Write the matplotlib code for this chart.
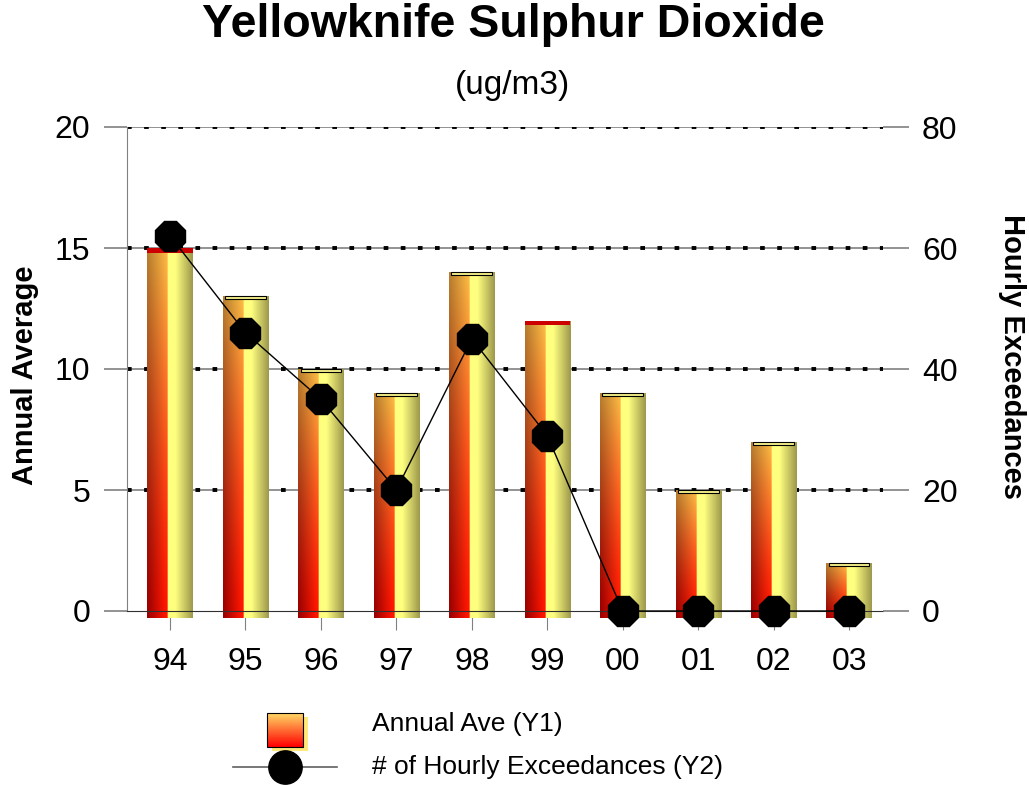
import numpy as np
import matplotlib
matplotlib.use("Agg")
import matplotlib.pyplot as plt
from matplotlib.patches import Rectangle

plt.rcParams['font.family'] = ['Liberation Sans', 'DejaVu Sans']

years = ['94', '95', '96', '97', '98', '99', '00', '01', '02', '03']
annual_avg = [15, 13, 10, 9, 14, 12, 9, 5, 7, 2]
exceedances = [62, 46, 35, 20, 45, 29, 0, 0, 0, 0]
cap_colors = ['#cc0000', '#f4f08a', '#f4f08a', '#f4f08a', '#f4f08a',
              '#cc0000', '#f4f08a', '#f4f08a', '#f4f08a', '#f4f08a']


def bar_image(nx=60, ny=80):
    u = np.linspace(0, 1, nx)
    v = np.linspace(0, 1, ny)[:, None, None]
    yel = np.stack([np.interp(u, [0, 0.45, 0.62, 1], [0.72, 1, 1, 0.62]),
                    np.interp(u, [0, 0.45, 0.62, 1], [0.66, 1, 1, 0.60]),
                    np.interp(u, [0, 0.45, 0.62, 1], [0.33, 0.5, 0.5, 0.30])], -1)
    red = np.stack([np.interp(u, [0, 0.4], [0.6, 1.0]),
                    np.interp(u, [0, 0.4], [0.0, 0.08]),
                    np.zeros_like(u)], -1)
    top = yel * np.array([1.0, 0.75, 0.55])
    w = 1 - v ** 1.3
    left = red[None] * w + top[None] * (1 - w)
    mask = (u < 0.45)[None, :, None]
    img = np.where(mask, left, np.broadcast_to(yel[None], left.shape))
    return np.clip(img, 0, 1)


fig = plt.figure(figsize=(10.29, 7.85), dpi=100)
ax = fig.add_axes([127 / 1029, 174 / 785, 756 / 1029, 484 / 785])
ax2 = ax.twinx()

x = np.arange(len(years))
bw = 0.6
img = bar_image()

# grid lines: gray solid under black dots
for g in [5, 10, 15, 20]:
    ax.axhline(g, color='#808080', lw=1.2, zorder=1)
    ax.axhline(g, color='black', lw=2.8, dashes=(1.2, 3.2), zorder=1.1)

for xi, val, cc in zip(x, annual_avg, cap_colors):
    ax.imshow(img, extent=[xi - bw / 2, xi + bw / 2, -0.27, val], aspect='auto',
              origin='lower', interpolation='bilinear', zorder=2, clip_on=False)
    if cc == '#cc0000':
        ax.add_patch(Rectangle((xi - bw / 2, val - 0.2), bw, 0.2, facecolor=cc,
                               edgecolor='none', zorder=3))
    else:
        ax.add_patch(Rectangle((xi - bw * 0.45, val - 0.12), bw * 0.9, 0.12,
                               facecolor=cc, edgecolor='black', lw=0.8, zorder=3))

ax.set_xlim(-0.57, 9.45)
ax.set_ylim(0, 20)
ax.set_yticks([0, 5, 10, 15, 20])
ax.set_xticks(x)
ax.set_xticklabels(years)
ax.tick_params(axis='x', length=14, color='#808080', pad=12, labelsize=23)
ax.tick_params(axis='y', length=16.5, color='#808080', pad=10, labelsize=23, width=1.2)
for s in ['top', 'right']:
    ax.spines[s].set_visible(False)
ax.spines['left'].set_color('#808080')
ax.spines['bottom'].set_color('#303030')
ax.spines['bottom'].set_zorder(4)

ax2.plot(x, exceedances, color='black', lw=1, marker='8', markersize=24,
         markerfacecolor='black', markeredgecolor='black', zorder=5, clip_on=False)
ax2.set_ylim(0, 80)
ax2.set_yticks([0, 20, 40, 60, 80])
ax2.tick_params(axis='y', length=19, color='#808080', pad=9, labelsize=23, width=1.2)
for s in ['top', 'right', 'left', 'bottom']:
    ax2.spines[s].set_visible(False)

fig.text(25 / 1029, 1 - 375 / 785, 'Annual Average', fontsize=21, fontweight='bold',
         rotation=90, ha='center', va='center')
fig.text(1012 / 1029, 1 - 357 / 785, 'Hourly Exceedances', fontsize=21,
         fontweight='bold', rotation=-90, ha='center', va='center')
fig.text(0.4985, 0.968, 'Yellowknife Sulphur Dioxide', fontsize=33.5,
         fontweight='bold', ha='center', va='center')
fig.text(0.4985, 0.891, '(ug/m3)', fontsize=24, ha='center', va='center')

# legend drawn by hand
lg = fig.add_axes([0, 0, 1, 1], zorder=-1)
lg.add_patch(Rectangle((272, 717), 36, 34, facecolor='#ffe97a', edgecolor='none'))
grad = np.linspace(0, 1, 50)[:, None, None]
sq = np.array([1.0, 0.0, 0.0]) * grad + np.array([1.0, 0.85, 0.4]) * (1 - grad)
lg.imshow(sq, extent=[267, 303, 747, 713], origin='upper', aspect='auto',
          interpolation='bilinear', zorder=2)
lg.add_patch(Rectangle((267, 713), 36, 34, facecolor='none', edgecolor='black',
                       lw=0.8, zorder=3))
lg.plot([233, 337], [767, 767], color='#606060', lw=1.2)
lg.plot([285], [767], marker='o', markersize=24, color='black')
lg.set_xlim(0, 1029)
lg.set_ylim(785, 0)
lg.axis('off')
fig.text(372 / 1029, 1 - 724 / 785, 'Annual Ave (Y1)', fontsize=19, va='center')
fig.text(372 / 1029, 1 - 767 / 785, '# of Hourly Exceedances (Y2)', fontsize=19, va='center')

fig.savefig('out.png', dpi=100)
